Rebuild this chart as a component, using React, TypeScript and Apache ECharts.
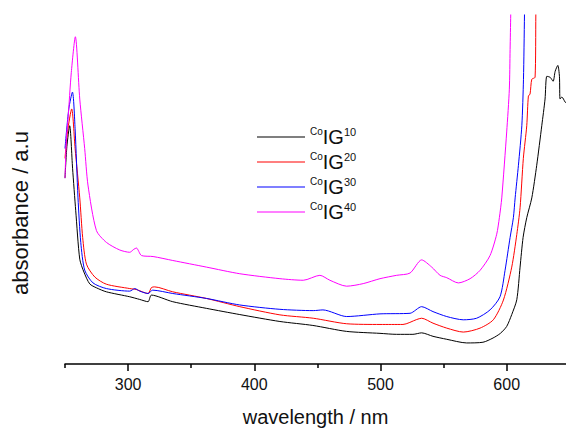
import React, { useEffect, useRef } from "react";
import * as echarts from "echarts";

const seriesNames = ["CoIG10", "CoIG20", "CoIG30", "CoIG40"];
const seriesColors = ["#000000", "#ff0000", "#0000ff", "#ff00ff"];

const wl10 = [250, 251.5, 253.7, 256, 258.5, 261.7, 265, 269.6, 275, 282.8, 301.3, 309.2, 315.8, 318.5, 335.4, 362, 388.5, 420.3, 446.4, 473, 499.6, 512.8, 525.7, 532.6, 541.6, 552.5, 568.3, 581.2, 589.2, 595, 600, 604, 608, 610.6, 613, 615.9, 619.9, 623.8, 627.8, 630.4, 631.8, 634.4, 636.8, 638.4, 640.5, 641.8, 642.3, 643.7, 646.3, 647];
const ab10 = [1.88, 2.2, 2.41, 1.98, 1.55, 1.06, 0.93, 0.81, 0.77, 0.73, 0.68, 0.653, 0.63, 0.697, 0.63, 0.563, 0.5, 0.43, 0.39, 0.33, 0.31, 0.3, 0.3, 0.315, 0.28, 0.25, 0.213, 0.22, 0.263, 0.31, 0.38, 0.5, 0.65, 0.98, 1.28, 1.48, 1.68, 2.01, 2.41, 2.68, 2.91, 2.9, 2.86, 2.96, 3.02, 2.91, 2.68, 2.7, 2.65, 2.64];

const wl20 = [250, 252, 255.3, 258, 261.7, 264, 267, 273.6, 282.8, 301.3, 306.6, 315.8, 318.5, 321.1, 335.4, 362.1, 388.5, 420.3, 446.7, 473.2, 499.6, 517.8, 528.7, 532.6, 541.6, 552.5, 565.6, 578.9, 589.4, 597.4, 604, 608, 610.6, 613.2, 615.9, 617.2, 618.5, 619.9, 622.5, 623.1, 623.5];
const ab20 = [2.08, 2.35, 2.58, 2.18, 1.68, 1.28, 1.01, 0.88, 0.807, 0.763, 0.753, 0.713, 0.773, 0.78, 0.73, 0.663, 0.58, 0.497, 0.463, 0.407, 0.4, 0.4, 0.45, 0.463, 0.413, 0.363, 0.323, 0.363, 0.447, 0.647, 0.98, 1.31, 1.58, 2.08, 2.41, 2.71, 2.73, 2.88, 2.9, 3.53, 3.9];

const wl30 = [250, 253, 255.9, 258, 260.3, 262.5, 265.6, 272.2, 282.8, 301.3, 305.3, 309.2, 315.8, 319.5, 335.4, 362.1, 388.5, 420.3, 446.7, 454.4, 473.2, 499.6, 523.4, 532.6, 541.6, 552.5, 565.6, 576.2, 586.8, 594.7, 598.7, 602.7, 605.3, 606.7, 609.3, 612, 613.3, 614.1, 614.5];
const ab30 = [2.18, 2.58, 2.75, 2.38, 1.68, 1.23, 0.95, 0.82, 0.763, 0.737, 0.763, 0.737, 0.713, 0.747, 0.713, 0.663, 0.597, 0.553, 0.54, 0.547, 0.48, 0.507, 0.513, 0.58, 0.53, 0.48, 0.447, 0.463, 0.547, 0.68, 0.947, 1.28, 1.48, 1.68, 2.01, 2.41, 2.88, 3.53, 3.9];

const wl40 = [250, 251.1, 252.4, 255, 258.2, 261.7, 265.6, 268.2, 274.9, 282.8, 293.4, 301.3, 304.5, 306.6, 310.6, 319.8, 335.4, 362.1, 388.5, 420.3, 438.8, 452, 459.9, 473.2, 486.3, 499.6, 512.8, 523.4, 532.6, 540.6, 547.2, 552.5, 561.7, 571, 578.9, 586.8, 592.1, 594.2, 596.1, 600, 602.1, 602.7, 603.2, 603.6];
const ab40 = [1.88, 2.28, 2.48, 2.95, 3.31, 2.68, 2.18, 1.81, 1.35, 1.23, 1.153, 1.13, 1.16, 1.173, 1.097, 1.087, 1.047, 0.98, 0.913, 0.863, 0.847, 0.897, 0.847, 0.787, 0.813, 0.863, 0.897, 0.92, 1.053, 0.98, 0.897, 0.873, 0.82, 0.863, 0.947, 1.097, 1.313, 1.48, 1.68, 2.347, 2.78, 3.18, 3.53, 3.9];

const wavelengths = [wl10, wl20, wl30, wl40];
const absorbances = [ab10, ab20, ab30, ab40];

const majorTicks = [300, 400, 500, 600];
const minorTicks = [250, 350, 450, 550];
const xMin = 250;
const xMax = 647;
const yMin = 0;
const yMax = 3.53;

const FONT = "'Liberation Sans', Arial, sans-serif";

export default function App() {
  const ref = useRef<HTMLDivElement>(null);
  useEffect(() => {
    if (!ref.current) return;
    const chart = echarts.init(ref.current, null, { renderer: "svg" });
    const series = seriesNames.map((name, i) => ({
      name,
      type: "line",
      xAxisIndex: 0,
      yAxisIndex: 0,
      symbol: "none",
      smooth: 0.25,
      clip: true,
      lineStyle: { color: seriesColors[i], width: 1 },
      itemStyle: { color: seriesColors[i] },
      data: wavelengths[i].map((w, j) => [w, absorbances[i][j]]),
    }));
    chart.setOption({
      animation: false,
      backgroundColor: "#ffffff",
      textStyle: { fontFamily: FONT },
      grid: { left: 65, right: 0, top: 15, bottom: 64 },
      legend: {
        orient: "vertical",
        left: 257,
        top: 126,
        padding: 0,
        icon: "rect",
        itemWidth: 48,
        itemHeight: 1,
        itemGap: 4,
        data: seriesNames,
        formatter: (name: string) => {
          const num = name.replace("CoIG", "");
          return `{co|Co}{ig|IG}{sup|${num}}`;
        },
        textStyle: {
          color: "#111",
          rich: {
            co: { fontSize: 10, fontFamily: FONT, color: "#111", verticalAlign: "top", lineHeight: 22 },
            ig: { fontSize: 20, fontFamily: FONT, color: "#111", lineHeight: 22 },
            sup: { fontSize: 11, fontFamily: FONT, color: "#111", verticalAlign: "top", lineHeight: 22 },
          },
        },
      },
      xAxis: [
        {
          type: "value",
          min: xMin,
          max: xMax,
          name: "wavelength / nm",
          nameLocation: "middle",
          nameGap: 43,
          nameTextStyle: { fontSize: 20, color: "#111", fontFamily: FONT },
          axisLine: { show: true, onZero: false, lineStyle: { color: "#000", width: 1.5 } },
          axisTick: { show: true, length: 7, customValues: majorTicks, lineStyle: { color: "#000", width: 1.5 } },
          axisLabel: { show: true, customValues: majorTicks, fontSize: 16, color: "#111", margin: 12, fontFamily: FONT },
          splitLine: { show: false },
        },
        {
          type: "value",
          min: xMin,
          max: xMax,
          position: "bottom",
          axisLine: { show: false },
          axisTick: { show: true, length: 4, customValues: minorTicks, lineStyle: { color: "#000", width: 1.5 } },
          axisLabel: { show: false },
          splitLine: { show: false },
        },
      ],
      yAxis: {
        type: "value",
        min: yMin,
        max: yMax,
        axisLine: { show: false },
        axisTick: { show: false },
        axisLabel: { show: false },
        splitLine: { show: false },
      },
      graphic: [
        {
          type: "text",
          x: 20,
          y: 213,
          rotation: Math.PI / 2,
          style: {
            text: "absorbance / a.u",
            fontSize: 22,
            fontFamily: FONT,
            fill: "#111",
            textAlign: "center",
            textVerticalAlign: "middle",
          },
        },
      ],
      series,
    });
    return () => chart.dispose();
  }, []);
  return (
    <div
      ref={ref}
      style={{ position: "fixed", left: 0, top: 0, width: 566, height: 432, background: "#fff" }}
    />
  );
}
